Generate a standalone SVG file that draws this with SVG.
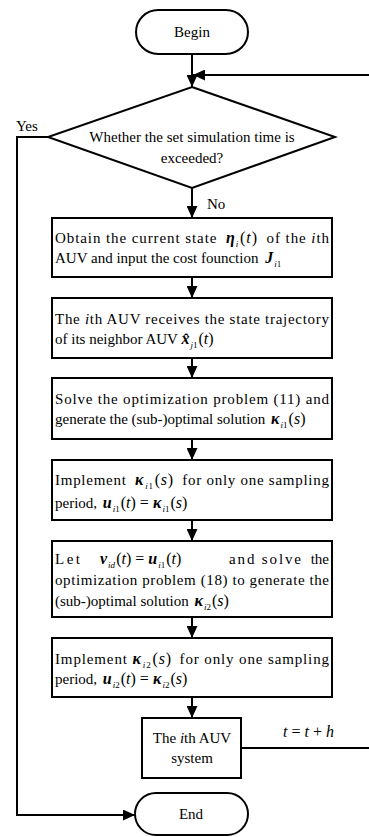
<svg xmlns="http://www.w3.org/2000/svg" width="369" height="837" viewBox="0 0 369 837" font-family="'Liberation Serif', 'Times New Roman', 'DejaVu Serif', serif">
<defs>
<marker id="ah" markerUnits="userSpaceOnUse" markerWidth="12" markerHeight="11" refX="12" refY="5.5" orient="auto"><path d="M0,0 L12,5.5 L0,11 z" fill="#000"/></marker>
<style>
.s{fill:#fff;stroke:#000;stroke-width:2}
.c{fill:none;stroke:#000;stroke-width:2}
text{font-family:'Liberation Serif','Times New Roman','DejaVu Serif',serif;font-size:15px;fill:#000}
.m{font-style:italic;font-weight:bold;font-size:16px}
.i{font-style:italic}
.sb{font-size:9px;font-style:italic}
.r{font-style:normal}
.q{font-size:16px}
</style>
</defs>
<rect width="369" height="837" fill="#fff"/>
<g id="connectors">
<path class="c" d="M192,54 V87" marker-end="url(#ah)"/>
<path class="c" d="M369,75 H193" marker-end="url(#ah)"/>
<path class="c" d="M48,137 H17 V815 H135" marker-end="url(#ah)"/>
<path class="c" d="M192,188 V218" marker-end="url(#ah)"/>
<path class="c" d="M192,277 V298" marker-end="url(#ah)"/>
<path class="c" d="M192,358 V378" marker-end="url(#ah)"/>
<path class="c" d="M192,439 V460" marker-end="url(#ah)"/>
<path class="c" d="M192,520 V541" marker-end="url(#ah)"/>
<path class="c" d="M192,617 V638" marker-end="url(#ah)"/>
<path class="c" d="M192,697 V718" marker-end="url(#ah)"/>
<path class="c" d="M241,748 H369"/>
<text x="16" y="131">Yes</text>
<text x="207" y="209">No</text>
<text x="283" y="737" class="q"><tspan class="i">t</tspan> = <tspan class="i">t</tspan> + <tspan class="i">h</tspan></text>
</g>
<g id="begin"><rect class="s" x="136" y="10" width="112" height="44" rx="22"/><text x="192" y="37" text-anchor="middle">Begin</text></g>
<g id="decision"><polygon class="s" points="192,87 335,137 192,188 48,137"/><text x="192" y="142" text-anchor="middle">Whether the set simulation time is</text><text x="192" y="163" text-anchor="middle">exceeded?</text></g>
<g id="step1"><rect class="s" x="52" y="218" width="280" height="59"/>
<text x="55" y="243" textLength="274" lengthAdjust="spacing">Obtain the current state <tspan class="m" dx="4">η</tspan><tspan class="sb" dy="4">i</tspan><tspan class="q" dy="-4" dx="1">(</tspan><tspan class="q i">t</tspan><tspan class="q">)</tspan><tspan dx="4"> of the </tspan><tspan class="i">i</tspan>th</text>
<text x="55" y="263">AUV and input the cost founction <tspan class="m" dx="3">J</tspan><tspan class="sb" dy="4" dx="1">i<tspan class="r">1</tspan></tspan></text>
</g>
<g id="step2"><rect class="s" x="52" y="298" width="280" height="60"/>
<text x="55" y="324" textLength="274" lengthAdjust="spacing">The <tspan class="i">i</tspan>th AUV receives the state trajectory</text>
<text x="55" y="344">of its neighbor AUV <tspan class="m">x̂</tspan><tspan class="sb" dy="4" dx="1">j<tspan class="r">1</tspan></tspan><tspan class="q" dy="-4" dx="1">(</tspan><tspan class="q i">t</tspan><tspan class="q">)</tspan></text>
</g>
<g id="step3"><rect class="s" x="52" y="378" width="280" height="61"/>
<text x="55" y="404" textLength="274" lengthAdjust="spacing">Solve the optimization problem (11) and</text>
<text x="55" y="424">generate the (sub-)optimal solution <tspan class="m" dx="2">κ</tspan><tspan class="sb" dy="4" dx="1">i<tspan class="r">1</tspan></tspan><tspan class="q" dy="-4" dx="1">(</tspan><tspan class="q i">s</tspan><tspan class="q">)</tspan></text>
</g>
<g id="step4"><rect class="s" x="52" y="460" width="280" height="60"/>
<text x="55" y="485" textLength="274" lengthAdjust="spacing">Implement <tspan class="m" dx="4">κ</tspan><tspan class="sb" dy="4" dx="1">i<tspan class="r">1</tspan></tspan><tspan class="q" dy="-4" dx="1">(</tspan><tspan class="q i">s</tspan><tspan class="q">)</tspan><tspan dx="4"> for only one sampling</tspan></text>
<text x="55" y="508">period, <tspan class="m" dx="2">u</tspan><tspan class="sb" dy="4" dx="1">i<tspan class="r">1</tspan></tspan><tspan class="q" dy="-4" dx="1">(</tspan><tspan class="q i">t</tspan><tspan class="q">) = </tspan><tspan class="m">κ</tspan><tspan class="sb" dy="4" dx="1">i<tspan class="r">1</tspan></tspan><tspan class="q" dy="-4" dx="1">(</tspan><tspan class="q i">s</tspan><tspan class="q">)</tspan></text>
</g>
<g id="step5"><rect class="s" x="52" y="541" width="280" height="76"/>
<text x="55" y="564" textLength="25" lengthAdjust="spacing">Let</text>
<text y="564"><tspan x="100" class="m">v</tspan><tspan class="sb" dy="4" dx="1">id</tspan><tspan class="q" dy="-4" dx="1">(</tspan><tspan class="q i">t</tspan><tspan class="q">) = </tspan><tspan class="m">u</tspan><tspan class="sb" dy="4" dx="1">i<tspan class="r">1</tspan></tspan><tspan class="q" dy="-4" dx="1">(</tspan><tspan class="q i">t</tspan><tspan class="q">)</tspan></text>
<text x="229" y="564" textLength="72" lengthAdjust="spacing">and solve</text>
<text x="329" y="564" text-anchor="end">the</text>
<text x="55" y="585" textLength="274" lengthAdjust="spacing">optimization problem (18) to generate the</text>
<text x="55" y="606">(sub-)optimal solution <tspan class="m" dx="2">κ</tspan><tspan class="sb" dy="4" dx="1">i<tspan class="r">2</tspan></tspan><tspan class="q" dy="-4" dx="1">(</tspan><tspan class="q i">s</tspan><tspan class="q">)</tspan></text>
</g>
<g id="step6"><rect class="s" x="52" y="638" width="280" height="59"/>
<text x="55" y="664" textLength="274" lengthAdjust="spacing">Implement <tspan class="m">κ</tspan><tspan class="sb" dy="4" dx="1">i<tspan class="r">2</tspan></tspan><tspan class="q" dy="-4" dx="1">(</tspan><tspan class="q i">s</tspan><tspan class="q">)</tspan><tspan dx="3"> for only one sampling</tspan></text>
<text x="55" y="684">period, <tspan class="m" dx="2">u</tspan><tspan class="sb" dy="4" dx="1">i<tspan class="r">2</tspan></tspan><tspan class="q" dy="-4" dx="1">(</tspan><tspan class="q i">t</tspan><tspan class="q">) = </tspan><tspan class="m">κ</tspan><tspan class="sb" dy="4" dx="1">i<tspan class="r">2</tspan></tspan><tspan class="q" dy="-4" dx="1">(</tspan><tspan class="q i">s</tspan><tspan class="q">)</tspan></text>
</g>
<g id="step7"><rect class="s" x="142" y="718" width="99" height="60"/>
<text x="192" y="743" text-anchor="middle">The <tspan class="i">i</tspan>th AUV</text>
<text x="192" y="763" text-anchor="middle">system</text>
</g>
<g id="end"><rect class="s" x="135" y="793" width="113" height="42" rx="21"/><text x="191" y="819" text-anchor="middle">End</text></g>
</svg>
